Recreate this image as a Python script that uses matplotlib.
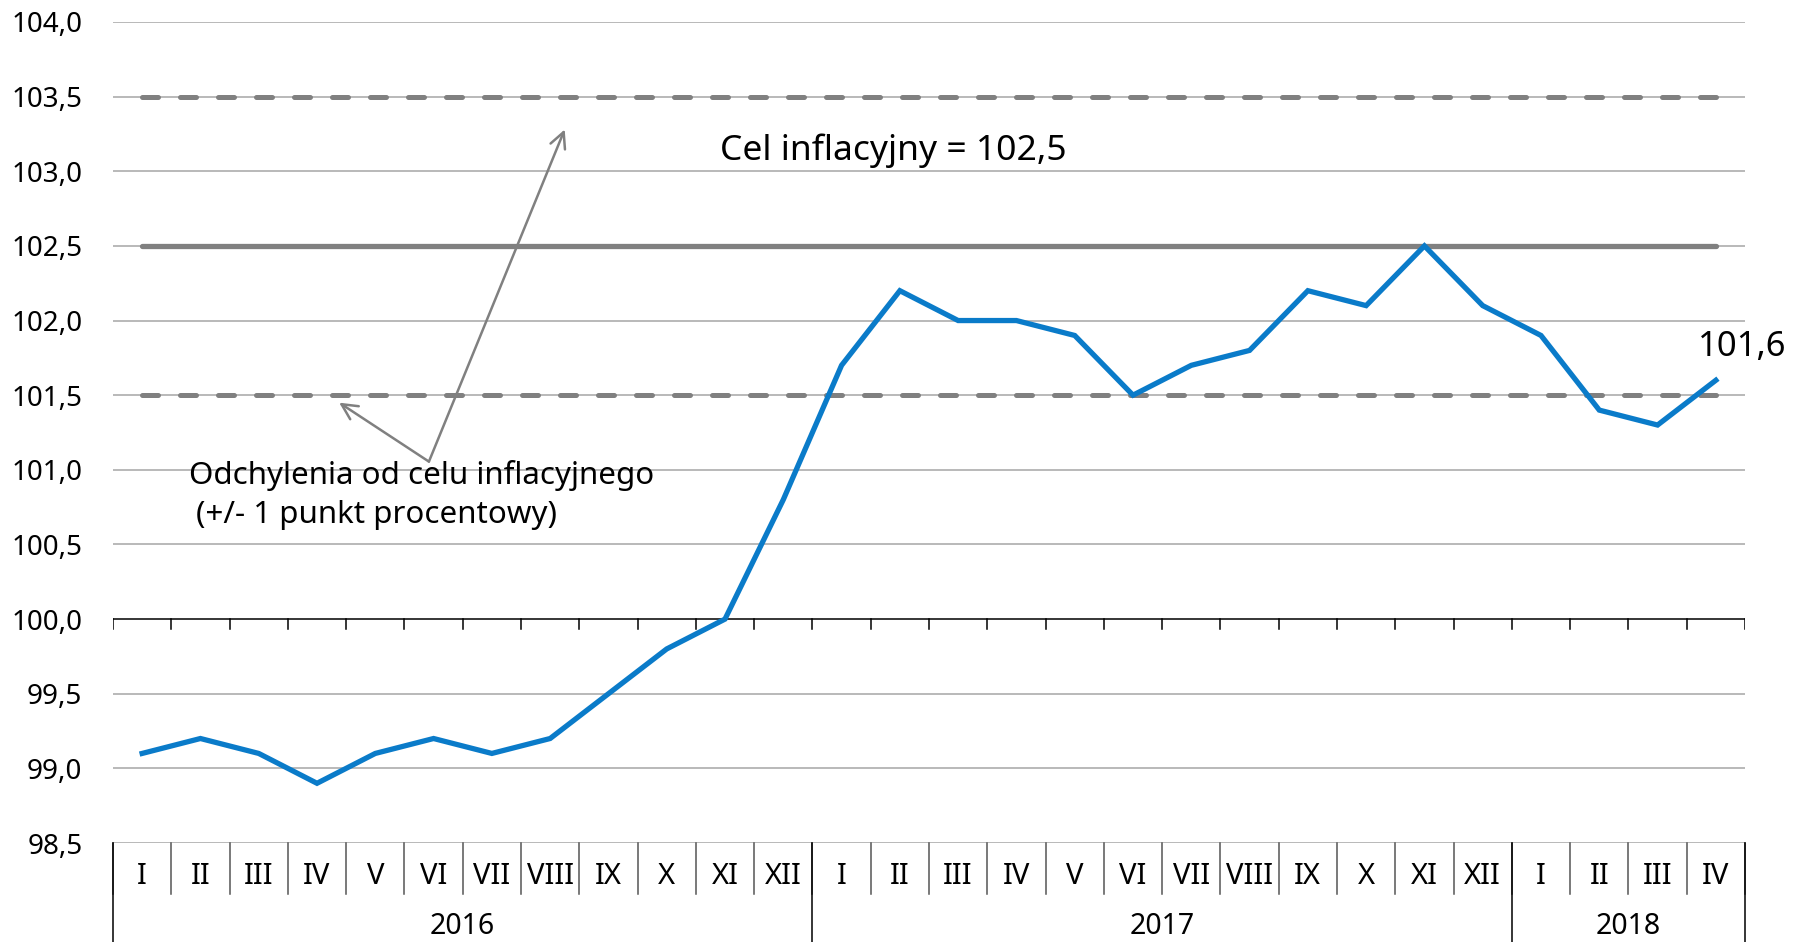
import numpy as np
import matplotlib
matplotlib.use("Agg")
import matplotlib.pyplot as plt
import matplotlib.transforms as mtransforms

plt.rcParams['font.family'] = ['Noto Sans', 'DejaVu Sans']

months = ["I", "II", "III", "IV", "V", "VI", "VII", "VIII", "IX", "X", "XI", "XII",
          "I", "II", "III", "IV", "V", "VI", "VII", "VIII", "IX", "X", "XI", "XII",
          "I", "II", "III", "IV"]
years = ["2016", "2017", "2018"]
year_len = [12, 12, 4]
cpi = [99.1, 99.2, 99.1, 98.9, 99.1, 99.2, 99.1, 99.2, 99.5, 99.8, 100.0, 100.8,
       101.7, 102.2, 102.0, 102.0, 101.9, 101.5, 101.7, 101.8, 102.2, 102.1, 102.5, 102.1,
       101.9, 101.4, 101.3, 101.6]
target = 102.5
band_lo = 101.5
band_hi = 103.5
yticks = np.arange(98.5, 104.01, 0.5)

blue = "#0A7BC9"
grey = "#808080"

fig = plt.figure(figsize=(18.02, 9.42), dpi=100)
ax = fig.add_axes([113 / 1802, 99 / 942, (1745 - 113) / 1802, (942 - 99 - 22) / 942])

x = np.arange(len(cpi))
n = len(cpi)

# grid
for yv in yticks:
    if abs(yv - 100.0) < 1e-9:
        continue
    ax.axhline(yv, color="#A6A6A6", lw=1.1, zorder=1)
# category axis crossing at 100
ax.axhline(100.0, color="black", lw=1.1, zorder=2)
for k in range(n + 1):
    ax.plot([k - 0.5, k - 0.5], [100.0, 100.0 - 0.065], color="black", lw=1.1, zorder=2)

# target and bands
ax.plot([x[0], x[-1]], [target, target], color=grey, lw=3.8, solid_capstyle="round", zorder=3)
for b in (band_lo, band_hi):
    ax.plot([x[0], x[-1]], [b, b], color=grey, lw=3.6, dashes=(3.2, 4.4),
            dash_capstyle="round", zorder=3)

ax.plot(x, cpi, color=blue, lw=3.8, solid_joinstyle="miter", zorder=4)

ax.set_xlim(-0.5, n - 0.5)
ax.set_ylim(98.5, 104.0)
ax.set_yticks(yticks)
ax.set_yticklabels([f"{v:.1f}".replace(".", ",") for v in yticks], fontsize=20)
ax.tick_params(axis="y", length=0, pad=22)
ax.set_xticks([])
for s in ax.spines.values():
    s.set_visible(False)

# category table below the plot
tr = mtransforms.blended_transform_factory(ax.transData, ax.transAxes)
row1 = -51 / 821
row2 = -99 / 821
for k in range(n + 1):
    ax.plot([k - 0.5, k - 0.5], [0, row1], color="#555555", lw=1.1, transform=tr, clip_on=False)
for i, m in enumerate(months):
    ax.text(i, -33 / 821, m, transform=tr, ha="center", va="center", fontsize=21)
start = 0
for yr, ln in zip(years, year_len):
    ax.plot([start - 0.5, start - 0.5], [0, row2], color="black", lw=1.1, transform=tr, clip_on=False)
    ax.text(start + (ln - 1) / 2, -83 / 821, yr, transform=tr, ha="center", va="center", fontsize=20.5)
    start += ln
ax.plot([n - 0.5, n - 0.5], [0, row2], color="black", lw=1.1, transform=tr, clip_on=False)

# annotations
ax.text(12.88, 103.14, "Cel inflacyjny = 102,5", ha="center", va="center", fontsize=25.5)
ax.text(27.45, 101.82, "101,6", ha="center", va="center", fontsize=25)
ax.text(0.8, 100.96, "Odchylenia od celu inflacyjnego", ha="left", va="center", fontsize=22.5)
ax.text(0.92, 100.70, "(+/- 1 punkt procentowy)", ha="left", va="center", fontsize=22.5)
vx, vy = 4.92, 101.055
for tx, ty in [(3.38, 101.45), (7.25, 103.28)]:
    ax.annotate("", xy=(tx, ty), xytext=(vx, vy),
                arrowprops=dict(arrowstyle="->", color=grey, lw=1.8,
                                mutation_scale=28, shrinkA=0, shrinkB=0))

fig.savefig("out.png", dpi=100)
